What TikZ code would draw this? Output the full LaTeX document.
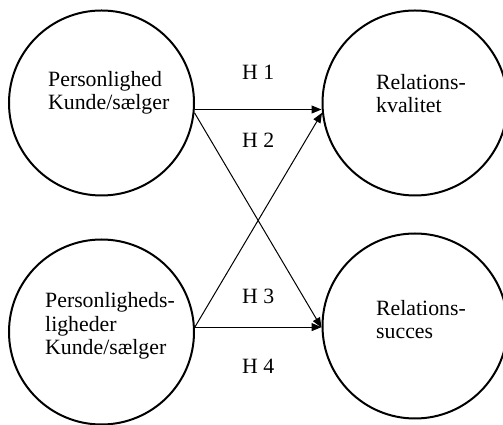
\documentclass[tikz,border=0pt]{standalone}
\usepackage{fontspec}
\setmainfont{Liberation Serif}
\usetikzlibrary{arrows.meta}
\begin{document}
\begin{tikzpicture}[x=1pt,y=1pt,
  bubble/.style={circle,draw,line width=2pt,minimum size=185pt,inner sep=0pt},
  txt/.style={align=left,anchor=base west,inner sep=0pt,font=\fontsize{21.8}{23.5}\selectfont},
  hlab/.style={anchor=base west,inner sep=0pt,font=\fontsize{21.8}{23}\selectfont},
  link/.style={line width=1pt,-{Triangle[length=10pt,width=8pt]}}]
\useasboundingbox (0,0) rectangle (503,425);
\node[bubble] (tl) at (101.5,322) {};
\node[bubble] (tr) at (415,322) {};
\node[bubble] (bl) at (101.5,93) {};
\node[bubble] (br) at (415,99) {};
\node[txt] (tlt) at (48,315) {Personlighed\\Kunde/sælger};
\node[txt] (trt) at (376,312) {Relations-\\kvalitet};
\node[txt] (blt) at (45,70) {Personligheds-\\ligheder\\Kunde/sælger};
\node[txt] (brt) at (376,86) {Relations-\\succes};
\node[hlab] (h1) at (242,345) {H 1};
\node[hlab] (h2) at (242,277) {H 2};
\node[hlab] (h3) at (242,121) {H 3};
\node[hlab] (h4) at (242,51) {H 4};
\draw[link] (tl.-4) -- (tl.-4 -| tr.west);
\draw[link] (tl.-6) -- (br.181);
\draw[link] (bl.3) -- (bl.3 -| br.west);
\draw[link] (bl.3) -- (tr.186);
\end{tikzpicture}
\end{document}
